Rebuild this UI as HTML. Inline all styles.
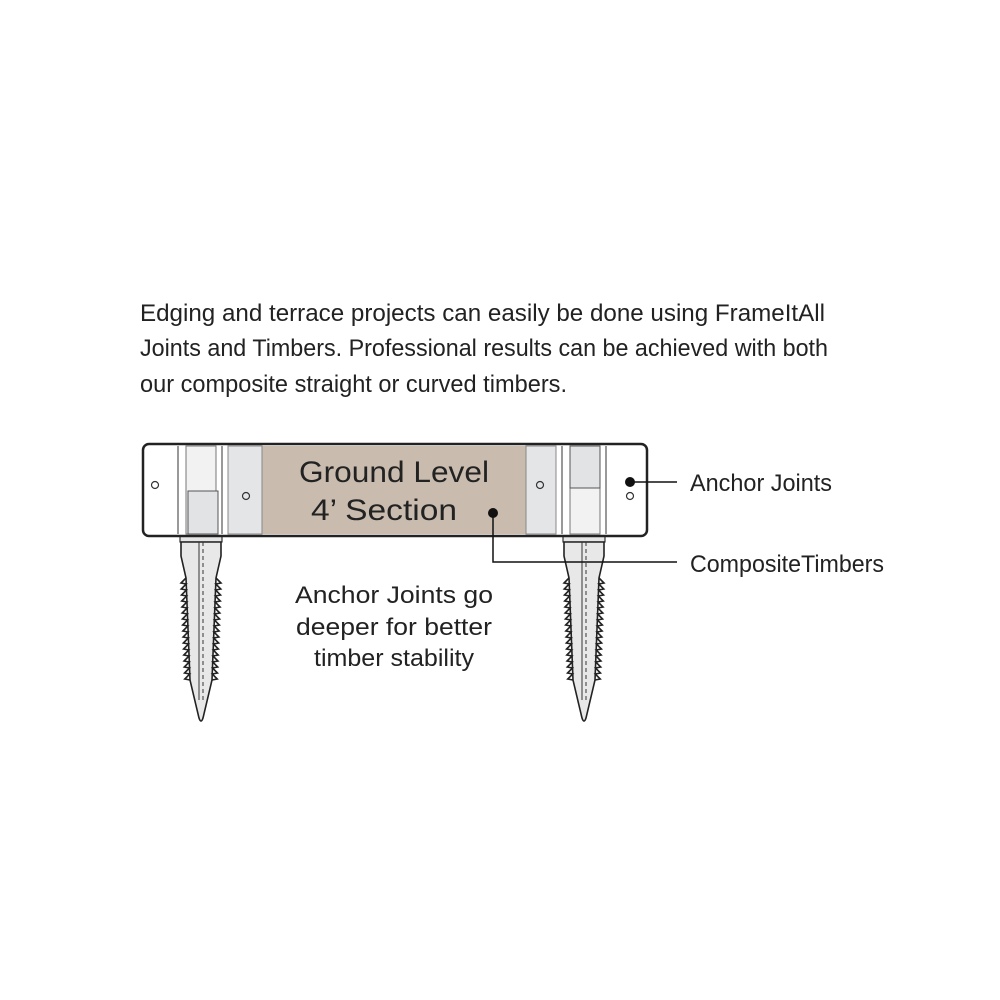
<!DOCTYPE html>
<html><head><meta charset="utf-8"><style>
body{margin:0;background:#fff;width:1000px;height:1000px;overflow:hidden}
svg{display:block}
text{font-family:"Liberation Sans",sans-serif;fill:#222}
</style></head><body>
<svg width="1000" height="1000" viewBox="0 0 1000 1000">
<defs>
<g id="spike">
 <rect x="-21" y="536" width="42" height="6" fill="#e6e6e6" stroke="#333" stroke-width="1.2"/>
 <path d="M-20 542 L20 542 L20 556 L15 578 L11 680 L2 718 Q0 724 -2 718 L-11 680 L-15 578 L-20 556 Z" fill="#e8e8e8" stroke="#222" stroke-width="1.6"/>
 <path class="tl" fill="none" stroke="#222" stroke-width="1.6"/>
 <path class="tr" fill="none" stroke="#222" stroke-width="1.6"/>
 <line x1="-2" y1="542" x2="-2" y2="700" stroke="#333" stroke-width="1"/>
 <line x1="2" y1="542" x2="2" y2="700" stroke="#333" stroke-width="1" stroke-dasharray="4 3"/>
</g>
</defs>
<text x="140" y="321" font-size="24" textLength="685" lengthAdjust="spacingAndGlyphs">Edging and terrace projects can easily be done using FrameItAll</text>
<text x="140" y="356" font-size="24" textLength="688" lengthAdjust="spacingAndGlyphs">Joints and Timbers. Professional results can be achieved with both</text>
<text x="140" y="392" font-size="24" textLength="427" lengthAdjust="spacingAndGlyphs">our composite straight or curved timbers.</text>

<use href="#spike" x="201"/>
<use href="#spike" x="584"/>

<rect x="143" y="444" width="504" height="92" rx="6" fill="#fff" stroke="#222" stroke-width="2.5"/>
<rect x="262" y="446" width="264" height="88" fill="#c9bcaf"/>
<rect x="228" y="446" width="34" height="88" fill="#e4e5e7" stroke="#888" stroke-width="1"/>
<rect x="526" y="446" width="30" height="88" fill="#e4e5e7" stroke="#888" stroke-width="1"/>
<line x1="178" y1="446" x2="178" y2="534" stroke="#333"/>
<line x1="222" y1="446" x2="222" y2="534" stroke="#333"/>
<rect x="186" y="446" width="30" height="88" fill="#f2f2f2" stroke="#777"/>
<rect x="188" y="491" width="30" height="43" fill="#e1e3e5" stroke="#555"/>
<line x1="562" y1="446" x2="562" y2="534" stroke="#333"/>
<line x1="606" y1="446" x2="606" y2="534" stroke="#333"/>
<rect x="570" y="446" width="30" height="88" fill="#f2f2f2" stroke="#777"/>
<rect x="570" y="446" width="30" height="42" fill="#e1e3e5" stroke="#555"/>
<g fill="none" stroke="#333" stroke-width="1.2">
<circle cx="155" cy="485" r="3.5"/><circle cx="246" cy="496" r="3.5"/>
<circle cx="540" cy="485" r="3.5"/><circle cx="630" cy="496" r="3.5"/>
</g>
<text x="394" y="482" font-size="30" text-anchor="middle" textLength="190" lengthAdjust="spacingAndGlyphs">Ground Level</text>
<text x="384" y="520" font-size="30" text-anchor="middle" textLength="146" lengthAdjust="spacingAndGlyphs">4’ Section</text>

<circle cx="630" cy="482" r="5" fill="#111"/>
<line x1="630" y1="482" x2="677" y2="482" stroke="#111" stroke-width="1.5"/>
<circle cx="493" cy="513" r="5" fill="#111"/>
<polyline points="493,513 493,562 677,562" fill="none" stroke="#111" stroke-width="1.5"/>
<text x="690" y="491" font-size="24" textLength="142" lengthAdjust="spacingAndGlyphs">Anchor Joints</text>
<text x="690" y="572" font-size="24" textLength="194" lengthAdjust="spacingAndGlyphs">CompositeTimbers</text>

<text x="394" y="603" font-size="24" text-anchor="middle" textLength="198" lengthAdjust="spacingAndGlyphs">Anchor Joints go</text>
<text x="394" y="635" font-size="24" text-anchor="middle" textLength="196" lengthAdjust="spacingAndGlyphs">deeper for better</text>
<text x="394" y="666" font-size="24" text-anchor="middle" textLength="160" lengthAdjust="spacingAndGlyphs">timber stability</text>
</svg>
<script>
(function(){
 var l="",r="";
 var n=17;
 for(var i=0;i<n;i++){
  var y=578+i*6, x=15-4*(i/n), y2=y+6, x2=15-4*((i+1)/n);
  if(i==0){l+="M"+(-x)+" "+y;r+="M"+x+" "+y;}
  l+=" L"+(-x-5)+" "+(y+5)+" L"+(-x2)+" "+y2;
  r+=" L"+(x+5)+" "+(y+5)+" L"+x2+" "+y2;
 }
 document.querySelector("#spike .tl").setAttribute("d",l);
 document.querySelector("#spike .tr").setAttribute("d",r);
})();
</script>
</body></html>
